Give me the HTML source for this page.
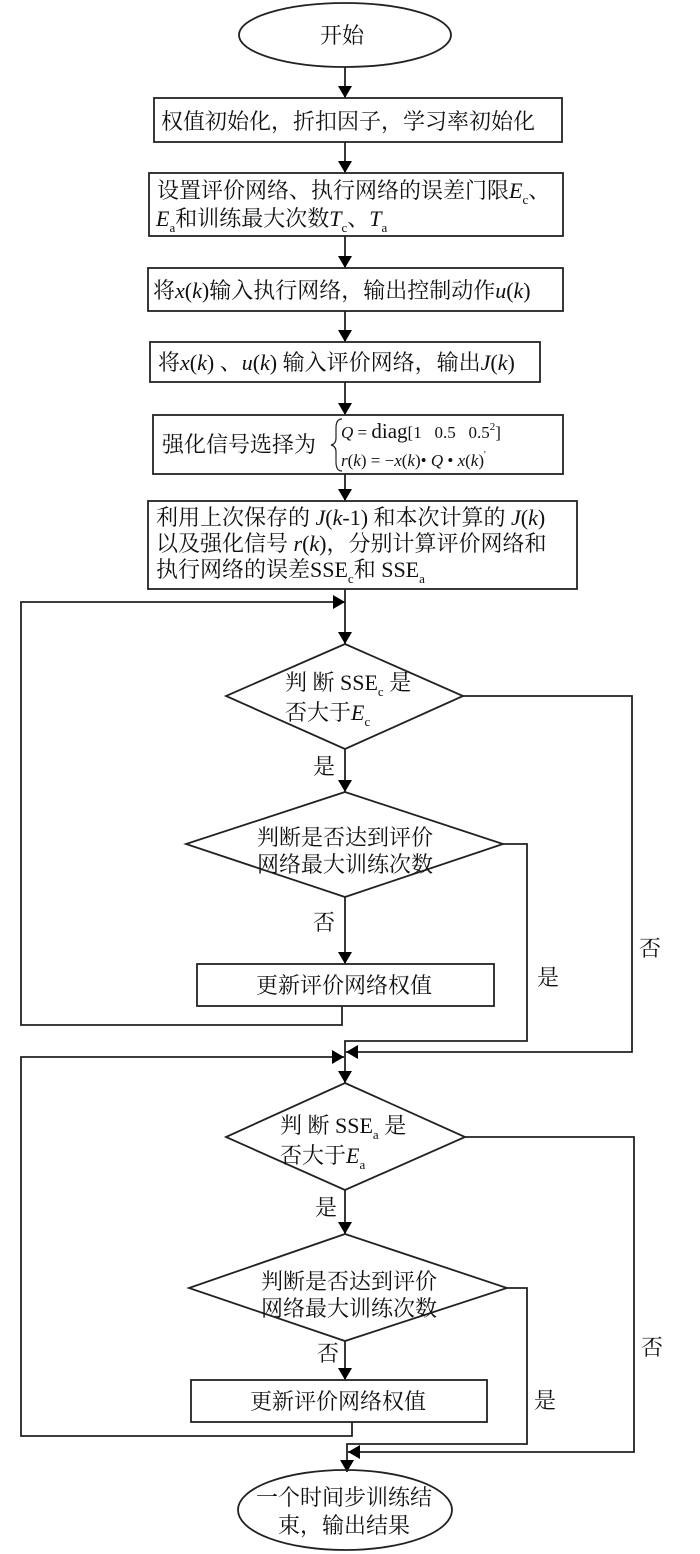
<!DOCTYPE html>
<html><head><meta charset="utf-8"><style>
html,body{margin:0;padding:0;background:#fff;}
svg{display:block;}
text{font-family:"Liberation Serif","Noto Serif CJK SC",serif;font-size:22px;fill:#111;}
.it{font-style:italic;}
.sub{font-size:13px;}
.sm{font-size:17px;}
</style></head><body>
<svg width="700" height="1554" viewBox="0 0 700 1554" xmlns="http://www.w3.org/2000/svg">
<defs>
<marker id="a" markerWidth="12" markerHeight="18" refX="12" refY="9" orient="auto" markerUnits="userSpaceOnUse">
<path d="M0,2 L12,9 L0,16 Z" fill="#000"/></marker>
</defs>
<g fill="none" stroke="#222" stroke-width="1.8">
<!-- start -->
<ellipse cx="345" cy="35" rx="106" ry="32"/>
<line x1="345" y1="67" x2="345" y2="98" marker-end="url(#a)"/>
<rect x="154" y="98" width="408" height="44"/>
<line x1="345" y1="142" x2="345" y2="173" marker-end="url(#a)"/>
<rect x="149" y="173" width="414" height="63"/>
<line x1="345" y1="236" x2="345" y2="268" marker-end="url(#a)"/>
<rect x="148" y="268" width="415" height="43"/>
<line x1="345" y1="311" x2="345" y2="342" marker-end="url(#a)"/>
<rect x="150" y="342" width="390" height="40"/>
<line x1="345" y1="382" x2="345" y2="415" marker-end="url(#a)"/>
<rect x="153" y="415" width="410" height="59"/>
<line x1="345" y1="474" x2="345" y2="501" marker-end="url(#a)"/>
<rect x="148" y="501" width="429" height="88"/>
<line x1="345" y1="589" x2="345" y2="644" marker-end="url(#a)"/>
<!-- loop1 -->
<polyline points="342,1006 342,1025 21,1025 21,602 345,602" marker-end="url(#a)"/>
<polygon points="345,644 463,696 345,749 226,696"/>
<line x1="345" y1="749" x2="345" y2="792" marker-end="url(#a)"/>
<polygon points="345,792 503,844 345,897 186,844"/>
<line x1="345" y1="897" x2="345" y2="964" marker-end="url(#a)"/>
<rect x="197" y="964" width="297" height="42"/>
<!-- yes from d2 -->
<polyline points="503,844 527,844 527,1041 345,1041 345,1083" marker-end="url(#a)"/>
<!-- no from d1 -->
<polyline points="463,696 632,696 632,1052 346,1052" marker-end="url(#a)"/>
<!-- loop2 -->
<polyline points="352,1436 352,1436" />
<polyline points="352,1422 352,1436 21,1436 21,1057 344,1057" marker-end="url(#a)"/>
<polygon points="345,1083 465,1137 345,1190 226,1137"/>
<line x1="345" y1="1190" x2="345" y2="1234" marker-end="url(#a)"/>
<polygon points="345,1234 507,1288 345,1341 189,1288"/>
<line x1="345" y1="1341" x2="345" y2="1380" marker-end="url(#a)"/>
<rect x="191" y="1380" width="296" height="42"/>
<polyline points="507,1288 527,1288 527,1444 347,1444 347,1472" marker-end="url(#a)"/>
<polyline points="465,1137 634,1137 634,1452 348,1452" marker-end="url(#a)"/>
<ellipse cx="345" cy="1510" rx="107" ry="40"/>
<!-- brace -->
<path d="M342,419 Q336,419 336,428 L336,438 Q336,444 331,445 Q336,446 336,452 L336,462 Q336,471 342,471" stroke-width="1.2"/>
</g>
<text x="320" y="43">开始</text>
<text x="161" y="129">权值初始化，折扣因子，学习率初始化</text>
<text x="157" y="198">设置评价网络、执行网络的误差门限<tspan class="it">E</tspan><tspan class="sub" dy="6">c</tspan><tspan dy="-6">、</tspan></text>
<text x="156" y="226"><tspan class="it">E</tspan><tspan class="sub" dy="6">a</tspan><tspan dy="-6">和训练最大次数</tspan><tspan class="it">T</tspan><tspan class="sub" dy="6">c</tspan><tspan dy="-6">、</tspan><tspan class="it">T</tspan><tspan class="sub" dy="6">a</tspan></text>
<text x="153" y="298">将<tspan class="it">x</tspan>(<tspan class="it">k</tspan>)输入执行网络，输出控制动作<tspan class="it">u</tspan>(<tspan class="it">k</tspan>)</text>
<text x="158" y="370">将<tspan class="it">x</tspan>(<tspan class="it">k</tspan>) 、<tspan class="it">u</tspan>(<tspan class="it">k</tspan>) 输入评价网络，输出<tspan class="it">J</tspan>(<tspan class="it">k</tspan>)</text>
<text x="162" y="452">强化信号选择为</text>
<text class="sm" x="341" y="438"><tspan class="it">Q</tspan> = <tspan font-size="21">diag</tspan>[1 &#160;&#160;0.5 &#160;&#160;0.5<tspan font-size="11" dy="-8">2</tspan><tspan dy="8">]</tspan></text>
<text class="sm" x="341" y="466"><tspan class="it">r</tspan>(<tspan class="it">k</tspan>) = −<tspan class="it">x</tspan>(<tspan class="it">k</tspan>)• <tspan class="it">Q</tspan> • <tspan class="it">x</tspan>(<tspan class="it">k</tspan>)<tspan font-size="10" dy="-8">'</tspan></text>
<text x="156" y="525">利用上次保存的 <tspan class="it">J</tspan>(<tspan class="it">k</tspan>-1) 和本次计算的 <tspan class="it">J</tspan>(<tspan class="it">k</tspan>)</text>
<text x="156" y="551">以及强化信号 <tspan class="it">r</tspan>(<tspan class="it">k</tspan>)，分别计算评价网络和</text>
<text x="156" y="577">执行网络的误差SSE<tspan class="sub" dy="6">c</tspan><tspan dy="-6">和 SSE</tspan><tspan class="sub" dy="6">a</tspan></text>
<text x="285" y="690">判 断 SSE<tspan class="sub" dy="6">c</tspan><tspan dy="-6"> 是</tspan></text>
<text x="285" y="720">否大于<tspan class="it">E</tspan><tspan class="sub" dy="6">c</tspan></text>
<text x="313" y="774">是</text>
<text x="257" y="845">判断是否达到评价</text>
<text x="257" y="872">网络最大训练次数</text>
<text x="313" y="930">否</text>
<text x="256" y="993">更新评价网络权值</text>
<text x="639" y="956">否</text>
<text x="537" y="985">是</text>
<text x="280" y="1133">判 断 SSE<tspan class="sub" dy="6">a</tspan><tspan dy="-6"> 是</tspan></text>
<text x="280" y="1163">否大于<tspan class="it">E</tspan><tspan class="sub" dy="6">a</tspan></text>
<text x="315" y="1215">是</text>
<text x="261" y="1289">判断是否达到评价</text>
<text x="261" y="1316">网络最大训练次数</text>
<text x="317" y="1361">否</text>
<text x="250" y="1409">更新评价网络权值</text>
<text x="641" y="1355">否</text>
<text x="534" y="1408">是</text>
<text x="256" y="1505">一个时间步训练结</text>
<text x="278" y="1533">束，输出结果</text>
</svg>
</body></html>
